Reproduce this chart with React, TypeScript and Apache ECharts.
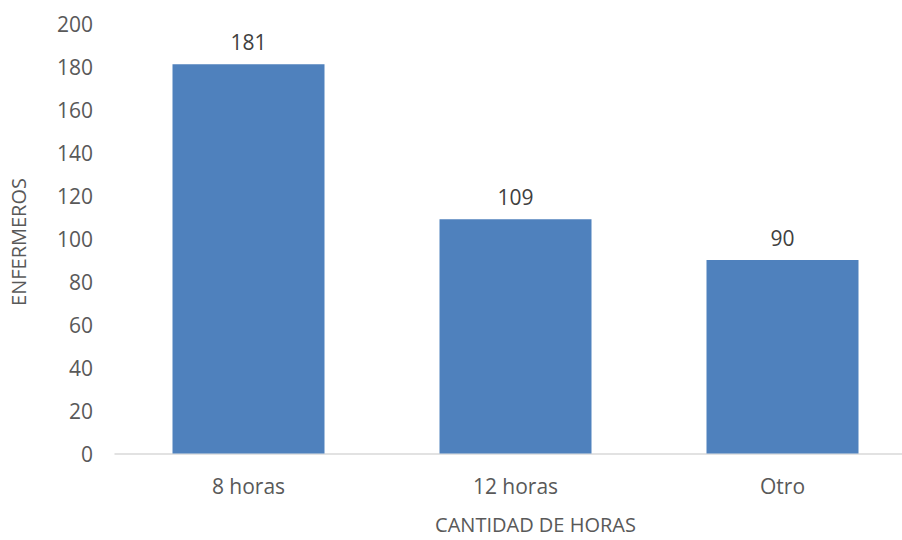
import React, { useEffect, useRef } from "react";
import * as echarts from "echarts";

const categories = ["8 horas", "12 horas", "Otro"];
const values = [181, 109, 90];
const xTitle = "CANTIDAD DE HORAS";
const yTitle = "ENFERMEROS";

export default function App() {
  const ref = useRef<HTMLDivElement>(null);
  useEffect(() => {
    const chart = echarts.init(ref.current!, undefined, { renderer: "svg" });
    const font = "'Open Sans', sans-serif";
    chart.setOption({
      animation: false,
      backgroundColor: "#ffffff",
      grid: {
        left: 115,
        top: 23.5,
        width: 801,
        height: 430,
        containLabel: false,
        outerBoundsMode: "none",
      },
      xAxis: {
        type: "category",
        data: categories,
        axisLine: { show: true, lineStyle: { color: "#D9D9D9", width: 1.5 } },
        axisTick: { show: false },
        axisLabel: { color: "#595959", fontSize: 21, fontFamily: font, margin: 22 },
        name: xTitle,
        nameLocation: "middle",
        nameGap: 61,
        nameTextStyle: {
          color: "#595959",
          fontSize: 20,
          lineHeight: 20,
          fontFamily: font,
          padding: [0, 0, 0, 40],
        },
      },
      yAxis: {
        type: "value",
        min: 0,
        max: 200,
        interval: 20,
        axisLine: { show: false },
        axisTick: { show: false },
        splitLine: { show: false },
        axisLabel: { color: "#595959", fontSize: 21, fontFamily: font, margin: 22 },
        name: yTitle,
        nameLocation: "middle",
        nameGap: 87,
        nameTextStyle: { color: "#595959", fontSize: 20, fontFamily: font, padding: [0, 7, 0, 0] },
      },
      series: [
        {
          type: "bar",
          data: values,
          barWidth: 152,
          itemStyle: { color: "#4F81BD" },
          label: {
            show: true,
            position: "top",
            distance: 12,
            color: "#404040",
            fontSize: 21,
            fontFamily: font,
          },
        },
      ],
    });
    return () => chart.dispose();
  }, []);
  return (
    <div
      ref={ref}
      style={{ position: "fixed", left: 0, top: 0, width: 902, height: 540 }}
    />
  );
}
